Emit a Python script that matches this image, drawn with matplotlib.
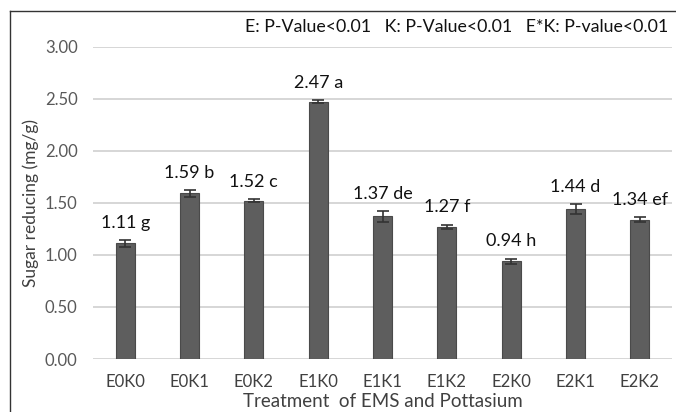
import numpy as np
import matplotlib

matplotlib.use('Agg')
from matplotlib import pyplot as plt
from matplotlib.lines import Line2D

treatments = ['E0K0', 'E0K1', 'E0K2', 'E1K0', 'E1K1', 'E1K2', 'E2K0', 'E2K1', 'E2K2']
sugar = [1.11, 1.59, 1.52, 2.47, 1.37, 1.27, 0.94, 1.44, 1.34]
err = [0.03, 0.03, 0.015, 0.015, 0.05, 0.02, 0.025, 0.05, 0.025]
letters = ['g', 'b', 'c', 'a', 'de', 'f', 'h', 'd', 'ef']
yticks = [0.0, 0.5, 1.0, 1.5, 2.0, 2.5, 3.0]

plt.rcParams['font.family'] = ['Lato', 'DejaVu Sans']

W, H = 676, 412
fig = plt.figure(figsize=(W / 100, H / 100), dpi=100)
ax = fig.add_axes([93 / W, (H - 359) / H, 579 / W, (359 - 46.7) / H])

x = np.arange(len(treatments))
ax.bar(x, sugar, width=0.3, color='#5e5e5e', edgecolor='#4a4a4a', linewidth=0.8, zorder=3)
ax.errorbar(x, sugar, yerr=err, fmt='none', ecolor='#333333', elinewidth=1.2,
            capsize=4, capthick=1.2, zorder=4)

for xi, v, e, l in zip(x, sugar, err, letters):
    ax.text(xi, v + e + 0.09, f'{v:.2f} {l}', ha='center', va='bottom',
            fontsize=13, color='#111111')

ax.set_xlim(-0.5, len(treatments) - 0.5)
ax.set_ylim(0, 3.0)
ax.set_yticks(yticks)
ax.set_yticklabels([f'{t:.2f}' for t in yticks], fontsize=12, color='#595959')
ax.set_xticks(x)
ax.set_xticklabels(treatments, fontsize=12, color='#404040')
ax.tick_params(axis='both', length=0)
ax.tick_params(axis='x', pad=11)
ax.tick_params(axis='y', pad=11)
ax.grid(axis='y', color='#d0d0d0', linewidth=1.2, zorder=0)
for s in ax.spines.values():
    s.set_visible(False)

ax.set_xlabel('Treatment  of EMS and Pottasium', fontsize=13.5, color='#404040', labelpad=2)
fig.text(31 / W, 1 - 203 / H, 'Sugar reducing (mg/g)', rotation=90, ha='center', va='center',
         fontsize=12.5, color='#404040')

fig.text(668 / W, 1 - 27 / H, 'E: P-Value<0.01   K: P-Value<0.01   E*K: P-value<0.01',
         ha='right', va='center', fontsize=12.8, color='#111111')

# frame of the original chart area
fig.add_artist(Line2D([10 / W, 10 / W], [0, 1 - 11 / H], color='#333333', linewidth=1))
fig.add_artist(Line2D([10 / W, 1], [1 - 11 / H, 1 - 11 / H], color='#333333', linewidth=1))

fig.savefig('out.png', dpi=100)
